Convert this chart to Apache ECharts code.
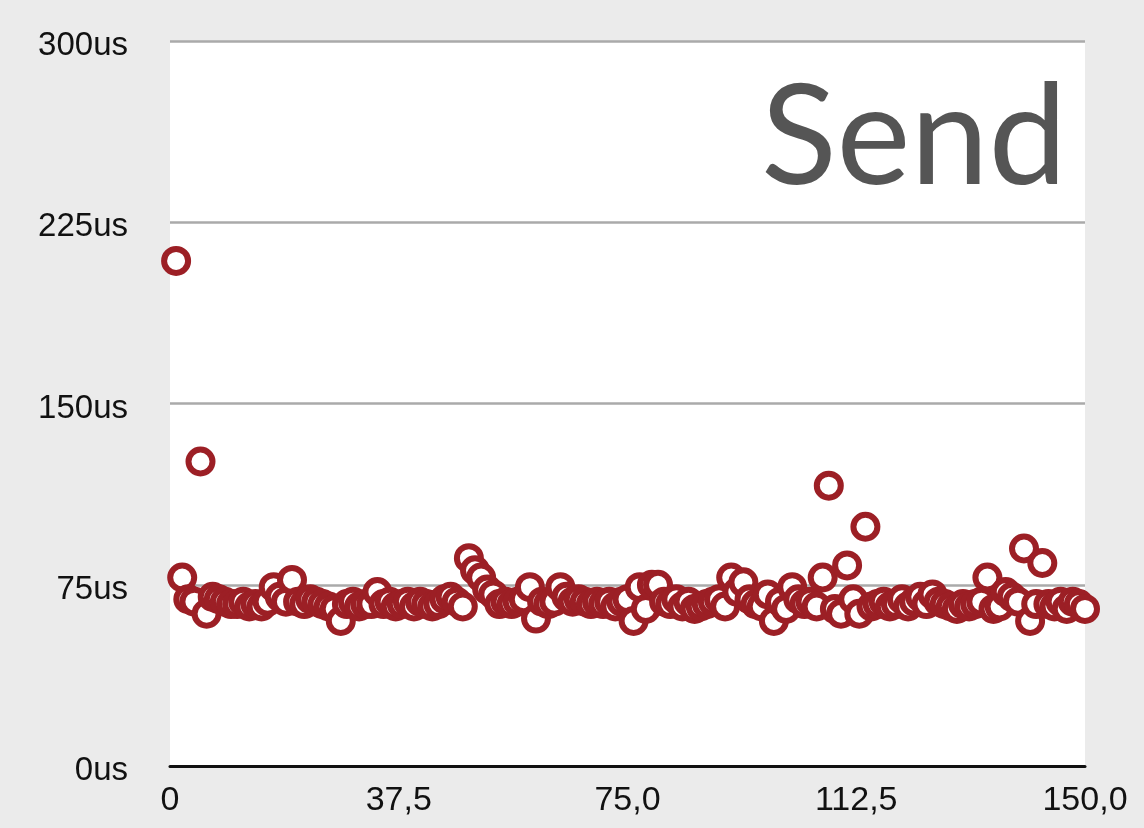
<!DOCTYPE html>
<html>
<head>
<meta charset="utf-8">
<script src="https://cdn.jsdelivr.net/npm/echarts@6/dist/echarts.min.js"></script>
<style>
  html, body { margin: 0; padding: 0; background: #ebebeb; }
  #chart { width: 1144px; height: 828px; }
</style>
</head>
<body>
<div id="chart"></div>
<script>
  // send latency per sample, in microseconds (sample 1..150)
  var sendTimes = [
    209, 78, 69, 68, 126, 63, 70, 69, 68, 67,
    67, 68, 66, 67, 66, 68, 74, 70, 68, 77,
    68, 67, 69, 68, 67, 66, 65, 60, 67, 68,
    66, 67, 67, 72, 67, 68, 66, 67, 68, 66,
    68, 67, 66, 67, 69, 70, 68, 66, 86, 81,
    78, 73, 71, 67, 68, 67, 68, 69, 74, 61,
    68, 67, 68, 74, 70, 68, 69, 68, 67, 68,
    67, 68, 66, 68, 69, 60, 74, 65, 75, 75,
    68, 67, 69, 66, 68, 65, 66, 67, 68, 69,
    66, 78, 72, 76, 69, 67, 66, 71, 60, 68,
    65, 74, 69, 67, 68, 66, 78, 116, 65, 63,
    83, 69, 63, 99, 66, 67, 68, 66, 67, 69,
    66, 68, 70, 67, 71, 68, 67, 66, 65, 67,
    66, 67, 68, 78, 65, 66, 72, 70, 68, 90,
    60, 67, 84, 67, 66, 68, 65, 68, 67, 65
  ];
  var xTickLabels = ['0', '37,5', '75,0', '112,5', '150,0'];
  var yTickLabels = ['0us', '75us', '150us', '225us', '300us'];

  var points = [];
  for (var i = 0; i < sendTimes.length; i++) {
    points.push([i + 1, sendTimes[i]]);
  }

  var chart = echarts.init(document.getElementById('chart'));
  var option = {
    backgroundColor: '#ebebeb',
    animation: false,
    title: {
      text: 'Send',
      right: 72,
      top: 64,
      textStyle: {
        fontFamily: 'Lato',
        fontWeight: 'normal',
        fontSize: 140,
        color: '#555555'
      }
    },
    grid: {
      left: 170,
      right: 59,
      top: 41,
      bottom: 62,
      show: true,
      backgroundColor: '#ffffff',
      borderWidth: 0
    },
    xAxis: {
      type: 'value',
      min: 0,
      max: 150,
      interval: 37.5,
      axisLine: { show: true, lineStyle: { color: '#111', width: 3 } },
      axisTick: { show: false },
      splitLine: { show: false },
      axisLabel: {
        margin: 18,
        fontFamily: 'Liberation Sans',
        fontSize: 34,
        color: '#111',
        formatter: function (v) { return xTickLabels[Math.round(v / 37.5)]; }
      }
    },
    yAxis: {
      type: 'value',
      min: 0,
      max: 300,
      interval: 75,
      axisLine: { show: false },
      axisTick: { show: false },
      splitLine: { show: true, lineStyle: { color: '#aaaaaa', width: 2.5 } },
      axisLabel: {
        margin: 42,
        fontFamily: 'Liberation Sans',
        fontSize: 33,
        color: '#111',
        formatter: function (v) { return '{lbl|' + yTickLabels[Math.round(v / 75)] + '}'; },
        rich: {
          lbl: {
            fontFamily: 'Liberation Sans',
            fontSize: 33,
            color: '#111',
            padding: [10, 0, 0, 0]
          }
        }
      }
    },
    series: [{
      type: 'scatter',
      data: points,
      symbol: 'circle',
      symbolSize: 24,
      itemStyle: {
        color: '#ffffff',
        borderColor: '#9c1f25',
        borderWidth: 6,
        opacity: 1
      }
    }]
  };
  chart.setOption(option);
</script>
</body>
</html>
